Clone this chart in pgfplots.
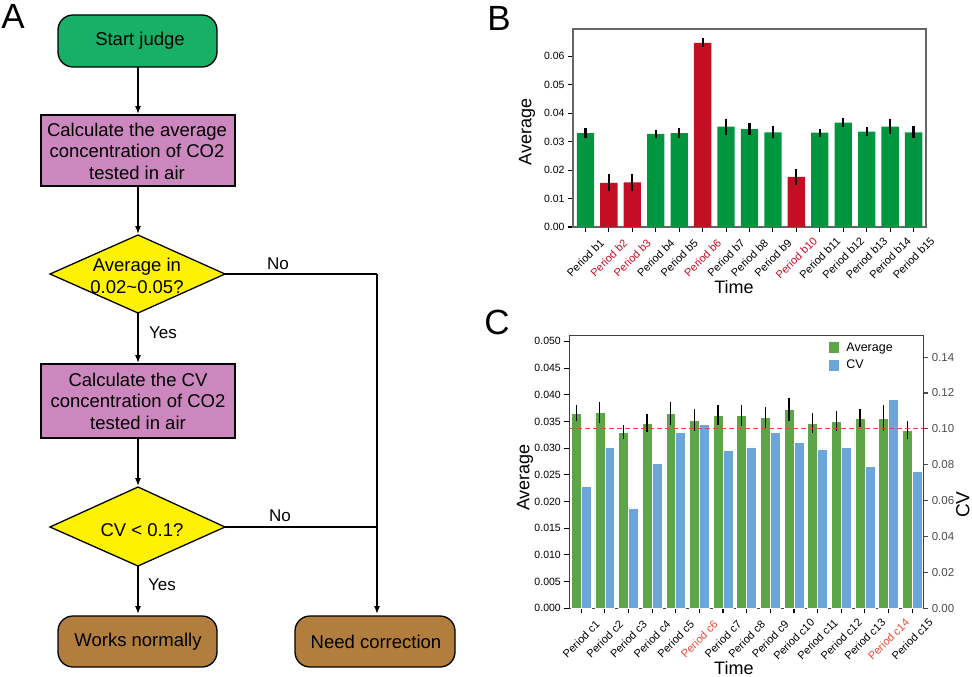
\documentclass[border=0pt]{standalone}
\usepackage{pgfplots}
\pgfplotsset{compat=1.18}
\usepackage{fontspec}
\setmainfont{Liberation Sans}
\usetikzlibrary{arrows.meta}

\definecolor{bgreen}{RGB}{0,150,64}
\definecolor{bred}{RGB}{196,14,36}
\definecolor{cgreen}{RGB}{92,166,72}
\definecolor{cblue}{RGB}{106,166,218}
\definecolor{cred}{RGB}{232,72,50}
\definecolor{fstart}{RGB}{24,176,102}
\definecolor{fpink}{RGB}{204,136,190}
\definecolor{fyellow}{RGB}{255,242,0}
\definecolor{fbrown}{RGB}{178,126,62}

\pgfplotsset{/pgf/number format/assume math mode=true}
\newcommand{\fs}[1]{\fontsize{#1}{1.18\dimexpr #1pt\relax}\selectfont}

\begin{document}
\begin{tikzpicture}
\useasboundingbox (0pt,0pt) rectangle (972pt,-677pt);

% ---------- A: flowchart ----------
\begin{scope}[x=1pt, y=-1pt, line width=1.3pt, >={Latex[length=8pt,width=6pt]}]
\node at (13,16) {\fs{35}A};
\node at (499,18) {\fs{35}B};
\node at (497,322) {\fs{35}C};

\draw[fill=fstart, rounded corners=15pt] (58,15) rectangle (217,67);
\node at (140,41) {\fs{18.5}Start judge};
\draw[->] (138,67) -- (138,114);

\draw[fill=fpink] (41,115) rectangle (235,186);
\node[align=center, font=\fontsize{18.5}{21.5}\selectfont] at (137,151)
  {Calculate the average\\concentration of CO2\\tested in air};
\draw[->] (138,186) -- (138,234);

\draw[fill=fyellow] (50,274) -- (138,235) -- (225,274) -- (138,313) -- cycle;
\node[align=center, font=\fontsize{18.5}{21.5}\selectfont] at (137,276)
  {Average in\\0.02\textasciitilde0.05?};
\node at (278,264) {\fs{17}No};
\draw (225,274) -- (377,274);
\draw[->] (377,274) -- (377,614);

\node at (163,333) {\fs{17}Yes};
\draw[->] (138,313) -- (138,363);

\draw[fill=fpink] (41,364) rectangle (235,438);
\node[align=center, font=\fontsize{18.5}{21.5}\selectfont] at (138,401)
  {Calculate the CV\\concentration of CO2\\tested in air};
\draw[->] (138,438) -- (138,486);

\draw[fill=fyellow] (50,527) -- (138,487) -- (225,527) -- (138,566) -- cycle;
\node at (142,530) {\fs{18.5}CV < 0.1?};
\node at (280,516) {\fs{17}No};
\draw (225,527) -- (377,527);

\node at (162,585) {\fs{17}Yes};
\draw[->] (138,566) -- (138,614);

\draw[fill=fbrown, rounded corners=15pt] (58,616) rectangle (217,667);
\node at (138,642) {\fs{18.5}Works normally};
\draw[fill=fbrown, rounded corners=15pt] (295,616) rectangle (455,667);
\node at (376,642) {\fs{18.5}Need correction};
\end{scope}

% ---------- B ----------
\begin{axis}[
  at={(573pt,-227pt)}, anchor=south west,
  scale only axis, width=353pt, height=198pt,
  xmin=0.47, xmax=15.53, ymin=0, ymax=0.0696,
  axis line style={draw=black!60, line width=1.2pt},
  tick align=outside, major tick length=5pt,
  tick style={black, line width=1.1pt},
  xtick pos=lower, ytick pos=left,
  xtick={1,...,15},
  xticklabels={Period b1,\textcolor{bred}{Period b2},\textcolor{bred}{Period b3},Period b4,Period b5,\textcolor{bred}{Period b6},Period b7,Period b8,Period b9,\textcolor{bred}{Period b10},Period b11,Period b12,Period b13,Period b14,Period b15},
  xticklabel style={yshift=-26pt, rotate=45, anchor=center, font=\fs{11}},
  ytick={0,0.01,0.02,0.03,0.04,0.05,0.06},
  scaled y ticks=false,
  yticklabel style={/pgf/number format/.cd, fixed, fixed zerofill, precision=2, /tikz/.cd, font=\fs{10.5}},
  ylabel={Average}, xlabel={Time},
  label style={font=\fs{18}},
  ylabel style={at={(axis description cs:-0.13,0.48)}, anchor=center},
  xlabel style={at={(axis description cs:0.456,-0.303)}, anchor=center},
  ybar, bar width=0.74,
]
\addplot[fill=bgreen, draw=none, bar shift=0pt,
  error bars/.cd, y dir=both, y explicit, error mark=none,
  error bar style={line width=2.2pt, black}]
  coordinates {
  (1,0.0330) +- (0,0.0017)
  (4,0.0327) +- (0,0.0013)
  (5,0.0330) +- (0,0.0017)
  (7,0.0353) +- (0,0.0028)
  (8,0.0344) +- (0,0.0021)
  (9,0.0333) +- (0,0.0021)
  (11,0.0332) +- (0,0.0014)
  (12,0.0367) +- (0,0.0015)
  (13,0.0335) +- (0,0.0015)
  (14,0.0353) +- (0,0.0025)
  (15,0.0333) +- (0,0.0021)
  };
\addplot[fill=bred, draw=none, bar shift=0pt,
  error bars/.cd, y dir=both, y explicit, error mark=none,
  error bar style={line width=2.2pt, black}]
  coordinates {
  (2,0.0155) +- (0,0.0030)
  (3,0.0157) +- (0,0.0030)
  (6,0.0647) +- (0,0.0016)
  (10,0.0176) +- (0,0.0028)
  };
\end{axis}

% ---------- C: left axis (Average) ----------
\begin{axis}[
  at={(569.3pt,-608.3pt)}, anchor=south west,
  scale only axis, width=354pt, height=272.6pt,
  xmin=0.5, xmax=15.47, ymin=0, ymax=0.05106,
  axis line style={draw=black!75, line width=1.2pt},
  tick align=outside, major tick length=5pt,
  tick style={black, line width=1.1pt},
  xtick pos=lower, ytick pos=left,
  xtick={1,...,15},
  xticklabels={Period c1,Period c2,Period c3,Period c4,Period c5,\textcolor{cred}{Period c6},Period c7,Period c8,Period c9,Period c10,Period c11,Period c12,Period c13,\textcolor{cred}{Period c14},Period c15},
  xticklabel style={yshift=-26pt, rotate=45, anchor=center, font=\fs{11}},
  ytick={0,0.005,0.01,0.015,0.02,0.025,0.03,0.035,0.04,0.045,0.05},
  scaled y ticks=false,
  yticklabel style={/pgf/number format/.cd, fixed, fixed zerofill, precision=3, /tikz/.cd, font=\fs{10.5}},
  ylabel={Average}, xlabel={Time},
  label style={font=\fs{18}},
  ylabel style={at={(axis description cs:-0.125,0.48)}, anchor=center},
  xlabel style={at={(axis description cs:0.465,-0.219)}, anchor=center},
  ybar, bar width=0.42,
]
\addplot[fill=cgreen, draw=white, line width=0.5pt, bar shift=-0.21,
  error bars/.cd, y dir=both, y explicit, error mark=none,
  error bar style={line width=1.3pt, black}]
  coordinates {
  (1,0.03652) +- (0,0.0015)
  (2,0.03664) +- (0,0.0020)
  (3,0.03302) +- (0,0.00125)
  (4,0.03470) +- (0,0.00175)
  (5,0.03645) +- (0,0.0022)
  (6,0.03527) +- (0,0.0021)
  (7,0.03620) +- (0,0.0018)
  (8,0.03614) +- (0,0.0019)
  (9,0.03570) +- (0,0.0020)
  (10,0.03727) +- (0,0.0021)
  (11,0.03470) +- (0,0.0018)
  (12,0.03502) +- (0,0.0019)
  (13,0.03564) +- (0,0.0017)
  (14,0.03564) +- (0,0.0024)
  (15,0.03340) +- (0,0.0016)
  };
\end{axis}

% ---------- C: right axis (CV) ----------
\begin{axis}[
  at={(569.3pt,-608.3pt)}, anchor=south west,
  scale only axis, width=354pt, height=272.6pt,
  xmin=0.5, xmax=15.47, ymin=0, ymax=0.1519,
  axis x line=none, axis y line*=right,
  axis line style={draw=black!75, line width=1.2pt},
  tick align=outside, major tick length=5pt,
  tick style={black!70, line width=1.1pt},
  ytick={0,0.02,0.04,0.06,0.08,0.1,0.12,0.14},
  scaled y ticks=false,
  yticklabel style={/pgf/number format/.cd, fixed, fixed zerofill, precision=2, /tikz/.cd, font=\fs{11.5}, text=black!70},
  ylabel={CV},
  ylabel style={at={(axis description cs:1.112,0.38)}, anchor=center, font=\fs{19}},
  legend style={at={(axis description cs:0.725,0.99)}, anchor=north west, draw=none, fill=none,
    font=\fs{12.5}, row sep=3pt},
  legend cell align=left,
]
\addlegendimage{legend image code/.code={\fill[cgreen] (0pt,-5pt) rectangle (9pt,5pt); \path[draw=none] (0pt,0pt) -- (15pt,0pt);}}
\addlegendentry{Average}
\addplot[ybar, bar width=0.42, bar shift=0.21, fill=cblue, draw=white, line width=0.5pt,
  legend image code/.code={\fill[cblue] (0pt,-5pt) rectangle (9pt,5pt); \path[draw=none] (0pt,0pt) -- (15pt,0pt);}]
  coordinates {
  (1,0.0678) (2,0.0895) (3,0.0559) (4,0.0806) (5,0.0982)
  (6,0.1023) (7,0.0882) (8,0.0899) (9,0.0982) (10,0.0923)
  (11,0.0889) (12,0.0895) (13,0.0791) (14,0.1164) (15,0.0761)
  };
\addlegendentry{CV}
\addplot[cred, line width=1.2pt, dash pattern=on 5pt off 3pt, forget plot]
  coordinates {(0.5,0.1) (15.47,0.1)};
\end{axis}
\end{tikzpicture}
\end{document}
